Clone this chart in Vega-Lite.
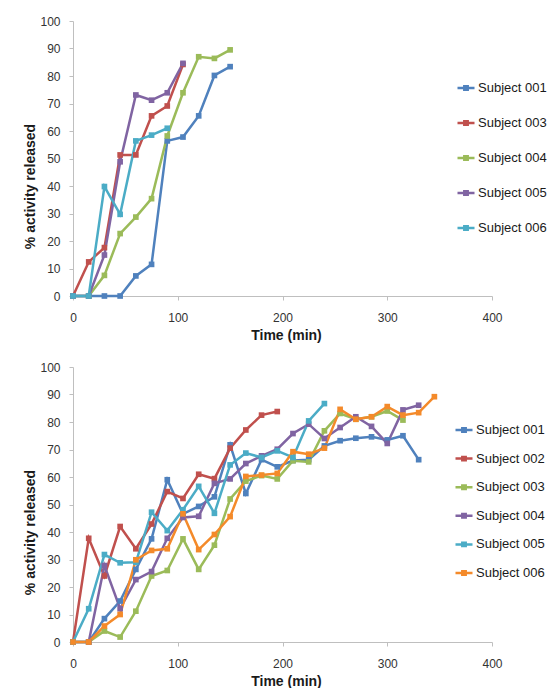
{
  "$schema": "https://vega.github.io/schema/vega-lite/v6.json",
  "padding": {"left": 23, "top": 15, "right": 0, "bottom": 0},
  "background": "white",
  "spacing": 19,
  "config": {
    "font": "Liberation Sans",
    "view": {"stroke": null},
    "axis": {"grid": false, "domainColor": "#bfbfbf", "tickColor": "#bfbfbf", "tickSize": 4, "labelFont": "Liberation Sans", "labelFontSize": 12, "labelColor": "#333333", "titleFont": "Liberation Sans", "titleFontSize": 14, "titleFontWeight": "bold", "titleColor": "#1a1a1a", "labelOverlap": false},
    "legend": {"labelFont": "Liberation Sans", "labelFontSize": 13, "labelColor": "#1a1a1a", "labelOffset": 2}
  },
  "datasets": {
    "a": [
      {"subject": "Subject 001", "time": 0, "pct": 0}, {"subject": "Subject 001", "time": 15, "pct": 0}, {"subject": "Subject 001", "time": 30, "pct": 0}, {"subject": "Subject 001", "time": 45, "pct": 0}, {"subject": "Subject 001", "time": 60, "pct": 7.3}, {"subject": "Subject 001", "time": 75, "pct": 11.5}, {"subject": "Subject 001", "time": 90, "pct": 56.4}, {"subject": "Subject 001", "time": 105, "pct": 57.8}, {"subject": "Subject 001", "time": 120, "pct": 65.5}, {"subject": "Subject 001", "time": 135, "pct": 80.2}, {"subject": "Subject 001", "time": 150, "pct": 83.4},
      {"subject": "Subject 003", "time": 0, "pct": 0}, {"subject": "Subject 003", "time": 15, "pct": 12.4}, {"subject": "Subject 003", "time": 30, "pct": 17.6}, {"subject": "Subject 003", "time": 45, "pct": 51.3}, {"subject": "Subject 003", "time": 60, "pct": 51.3}, {"subject": "Subject 003", "time": 75, "pct": 65.5}, {"subject": "Subject 003", "time": 90, "pct": 69.1}, {"subject": "Subject 003", "time": 105, "pct": 84.2},
      {"subject": "Subject 004", "time": 0, "pct": 0}, {"subject": "Subject 004", "time": 15, "pct": 0}, {"subject": "Subject 004", "time": 30, "pct": 7.5}, {"subject": "Subject 004", "time": 45, "pct": 22.7}, {"subject": "Subject 004", "time": 60, "pct": 28.7}, {"subject": "Subject 004", "time": 75, "pct": 35.4}, {"subject": "Subject 004", "time": 90, "pct": 58.2}, {"subject": "Subject 004", "time": 105, "pct": 73.9}, {"subject": "Subject 004", "time": 120, "pct": 87.0}, {"subject": "Subject 004", "time": 135, "pct": 86.4}, {"subject": "Subject 004", "time": 150, "pct": 89.5},
      {"subject": "Subject 005", "time": 0, "pct": 0}, {"subject": "Subject 005", "time": 15, "pct": 0}, {"subject": "Subject 005", "time": 30, "pct": 14.9}, {"subject": "Subject 005", "time": 45, "pct": 48.8}, {"subject": "Subject 005", "time": 60, "pct": 73.1}, {"subject": "Subject 005", "time": 75, "pct": 71.2}, {"subject": "Subject 005", "time": 90, "pct": 73.9}, {"subject": "Subject 005", "time": 105, "pct": 84.6},
      {"subject": "Subject 006", "time": 0, "pct": 0}, {"subject": "Subject 006", "time": 15, "pct": 0}, {"subject": "Subject 006", "time": 30, "pct": 39.8}, {"subject": "Subject 006", "time": 45, "pct": 29.7}, {"subject": "Subject 006", "time": 60, "pct": 56.4}, {"subject": "Subject 006", "time": 75, "pct": 58.5}, {"subject": "Subject 006", "time": 90, "pct": 61.0}
    ],
    "b": [
      {"subject": "Subject 001", "time": 0, "pct": 0}, {"subject": "Subject 001", "time": 15, "pct": 0}, {"subject": "Subject 001", "time": 30, "pct": 8.5}, {"subject": "Subject 001", "time": 45, "pct": 14.9}, {"subject": "Subject 001", "time": 60, "pct": 26.4}, {"subject": "Subject 001", "time": 75, "pct": 37.5}, {"subject": "Subject 001", "time": 90, "pct": 59}, {"subject": "Subject 001", "time": 105, "pct": 46.6}, {"subject": "Subject 001", "time": 120, "pct": 49.3}, {"subject": "Subject 001", "time": 135, "pct": 52.8}, {"subject": "Subject 001", "time": 150, "pct": 71.7}, {"subject": "Subject 001", "time": 165, "pct": 54}, {"subject": "Subject 001", "time": 180, "pct": 66.3}, {"subject": "Subject 001", "time": 195, "pct": 63.7}, {"subject": "Subject 001", "time": 210, "pct": 66}, {"subject": "Subject 001", "time": 225, "pct": 66.3}, {"subject": "Subject 001", "time": 240, "pct": 71.3}, {"subject": "Subject 001", "time": 255, "pct": 73.2}, {"subject": "Subject 001", "time": 270, "pct": 74.1}, {"subject": "Subject 001", "time": 285, "pct": 74.6}, {"subject": "Subject 001", "time": 300, "pct": 73.5}, {"subject": "Subject 001", "time": 315, "pct": 75}, {"subject": "Subject 001", "time": 330, "pct": 66.3},
      {"subject": "Subject 002", "time": 0, "pct": 0}, {"subject": "Subject 002", "time": 15, "pct": 37.7}, {"subject": "Subject 002", "time": 30, "pct": 24}, {"subject": "Subject 002", "time": 45, "pct": 42}, {"subject": "Subject 002", "time": 60, "pct": 33.9}, {"subject": "Subject 002", "time": 75, "pct": 42.9}, {"subject": "Subject 002", "time": 90, "pct": 54.7}, {"subject": "Subject 002", "time": 105, "pct": 52.2}, {"subject": "Subject 002", "time": 120, "pct": 61}, {"subject": "Subject 002", "time": 135, "pct": 59.4}, {"subject": "Subject 002", "time": 150, "pct": 70.5}, {"subject": "Subject 002", "time": 165, "pct": 77.1}, {"subject": "Subject 002", "time": 180, "pct": 82.5}, {"subject": "Subject 002", "time": 195, "pct": 83.8},
      {"subject": "Subject 003", "time": 0, "pct": 0}, {"subject": "Subject 003", "time": 15, "pct": 0}, {"subject": "Subject 003", "time": 30, "pct": 4}, {"subject": "Subject 003", "time": 45, "pct": 1.8}, {"subject": "Subject 003", "time": 60, "pct": 11.2}, {"subject": "Subject 003", "time": 75, "pct": 24}, {"subject": "Subject 003", "time": 90, "pct": 26}, {"subject": "Subject 003", "time": 105, "pct": 37.5}, {"subject": "Subject 003", "time": 120, "pct": 26.4}, {"subject": "Subject 003", "time": 135, "pct": 35.2}, {"subject": "Subject 003", "time": 150, "pct": 52}, {"subject": "Subject 003", "time": 165, "pct": 58.5}, {"subject": "Subject 003", "time": 180, "pct": 60.5}, {"subject": "Subject 003", "time": 195, "pct": 59.3}, {"subject": "Subject 003", "time": 210, "pct": 65.9}, {"subject": "Subject 003", "time": 225, "pct": 65.5}, {"subject": "Subject 003", "time": 240, "pct": 76.8}, {"subject": "Subject 003", "time": 255, "pct": 83.1}, {"subject": "Subject 003", "time": 270, "pct": 81}, {"subject": "Subject 003", "time": 285, "pct": 81.9}, {"subject": "Subject 003", "time": 300, "pct": 84}, {"subject": "Subject 003", "time": 315, "pct": 80.7},
      {"subject": "Subject 004", "time": 0, "pct": 0}, {"subject": "Subject 004", "time": 15, "pct": 0}, {"subject": "Subject 004", "time": 30, "pct": 27.8}, {"subject": "Subject 004", "time": 45, "pct": 12.1}, {"subject": "Subject 004", "time": 60, "pct": 22.7}, {"subject": "Subject 004", "time": 75, "pct": 25.6}, {"subject": "Subject 004", "time": 90, "pct": 37.7}, {"subject": "Subject 004", "time": 105, "pct": 45.3}, {"subject": "Subject 004", "time": 120, "pct": 45.7}, {"subject": "Subject 004", "time": 135, "pct": 57.7}, {"subject": "Subject 004", "time": 150, "pct": 59.3}, {"subject": "Subject 004", "time": 165, "pct": 64.9}, {"subject": "Subject 004", "time": 180, "pct": 67.7}, {"subject": "Subject 004", "time": 195, "pct": 70.1}, {"subject": "Subject 004", "time": 210, "pct": 75.8}, {"subject": "Subject 004", "time": 225, "pct": 79.2}, {"subject": "Subject 004", "time": 240, "pct": 74}, {"subject": "Subject 004", "time": 255, "pct": 78}, {"subject": "Subject 004", "time": 270, "pct": 81.9}, {"subject": "Subject 004", "time": 285, "pct": 78.4}, {"subject": "Subject 004", "time": 300, "pct": 72.2}, {"subject": "Subject 004", "time": 315, "pct": 84.4}, {"subject": "Subject 004", "time": 330, "pct": 86.1},
      {"subject": "Subject 005", "time": 0, "pct": 0}, {"subject": "Subject 005", "time": 15, "pct": 12.1}, {"subject": "Subject 005", "time": 30, "pct": 31.8}, {"subject": "Subject 005", "time": 45, "pct": 28.8}, {"subject": "Subject 005", "time": 60, "pct": 29}, {"subject": "Subject 005", "time": 75, "pct": 47.2}, {"subject": "Subject 005", "time": 90, "pct": 40.5}, {"subject": "Subject 005", "time": 105, "pct": 48.1}, {"subject": "Subject 005", "time": 120, "pct": 56.6}, {"subject": "Subject 005", "time": 135, "pct": 46.8}, {"subject": "Subject 005", "time": 150, "pct": 64.4}, {"subject": "Subject 005", "time": 165, "pct": 68.7}, {"subject": "Subject 005", "time": 180, "pct": 67.1}, {"subject": "Subject 005", "time": 195, "pct": 69.5}, {"subject": "Subject 005", "time": 210, "pct": 67.1}, {"subject": "Subject 005", "time": 225, "pct": 80.4}, {"subject": "Subject 005", "time": 240, "pct": 86.7},
      {"subject": "Subject 006", "time": 0, "pct": 0}, {"subject": "Subject 006", "time": 15, "pct": 0}, {"subject": "Subject 006", "time": 30, "pct": 5.8}, {"subject": "Subject 006", "time": 45, "pct": 10}, {"subject": "Subject 006", "time": 60, "pct": 29.9}, {"subject": "Subject 006", "time": 75, "pct": 33.3}, {"subject": "Subject 006", "time": 90, "pct": 33.9}, {"subject": "Subject 006", "time": 105, "pct": 46.6}, {"subject": "Subject 006", "time": 120, "pct": 33.6}, {"subject": "Subject 006", "time": 135, "pct": 39.1}, {"subject": "Subject 006", "time": 150, "pct": 45.6}, {"subject": "Subject 006", "time": 165, "pct": 60.2}, {"subject": "Subject 006", "time": 180, "pct": 60.7}, {"subject": "Subject 006", "time": 195, "pct": 61.3}, {"subject": "Subject 006", "time": 210, "pct": 69.2}, {"subject": "Subject 006", "time": 225, "pct": 68.3}, {"subject": "Subject 006", "time": 240, "pct": 70.5}, {"subject": "Subject 006", "time": 255, "pct": 84.6}, {"subject": "Subject 006", "time": 270, "pct": 81}, {"subject": "Subject 006", "time": 285, "pct": 81.9}, {"subject": "Subject 006", "time": 300, "pct": 85.6}, {"subject": "Subject 006", "time": 315, "pct": 82.5}, {"subject": "Subject 006", "time": 330, "pct": 83.4}, {"subject": "Subject 006", "time": 345, "pct": 89.2}
    ]
  },
  "resolve": {"scale": {"color": "independent", "x": "independent", "y": "independent"}, "legend": {"color": "independent"}},
  "vconcat": [
    {
      "width": 419, "height": 275,
      "encoding": {
        "x": {"field": "time", "type": "quantitative", "scale": {"domain": [0, 400], "nice": false}, "axis": {"values": [0, 100, 200, 300, 400], "title": "Time (min)", "labelPadding": 12, "titlePadding": 5, "labelFlush": false, "labelOverlap": false, "titleX": 213}},
        "y": {"field": "pct", "type": "quantitative", "scale": {"domain": [0, 100], "nice": false}, "axis": {"values": [0, 10, 20, 30, 40, 50, 60, 70, 80, 90, 100], "title": "% activity released", "labelPadding": 9, "titlePadding": 2, "labelOverlap": false, "titleY": 165}},
        "color": {"field": "subject", "type": "nominal", "scale": {"domain": ["Subject 001", "Subject 003", "Subject 004", "Subject 005", "Subject 006"], "range": ["#4F81BD", "#C0504D", "#9BBB59", "#8064A2", "#4BACC6"]}, "legend": {"title": null, "orient": "none", "legendX": 383, "legendY": 57, "rowPadding": 18, "symbolType": "M-1,0L1,0M-0.2,-0.2L0.2,-0.2L0.2,0.2L-0.2,0.2Z", "symbolSize": 289, "symbolStrokeWidth": 2.5}}
      },
      "layer": [
        {
          "data": {"name": "a"},
          "mark": {"type": "line", "strokeWidth": 2.5}
        },
        {
          "data": {"name": "a"},
          "mark": {"type": "point", "shape": "square", "filled": true, "size": 32, "opacity": 1}
        },
        {
          "data": {"values": [{"label": "(a)"}]},
          "mark": {"type": "text", "fontSize": 16, "font": "Liberation Sans", "align": "center", "baseline": "middle"},
          "encoding": {"x": {"datum": 415, "type": "quantitative"}, "y": {"datum": 100, "type": "quantitative"}, "text": {"field": "label"}, "color": {"value": "#1a1a1a"}}
        }
      ]
    },
    {
      "width": 419, "height": 275,
      "encoding": {
        "x": {"field": "time", "type": "quantitative", "scale": {"domain": [0, 400], "nice": false}, "axis": {"values": [0, 100, 200, 300, 400], "title": "Time (min)", "labelPadding": 12, "titlePadding": 5, "labelFlush": false, "labelOverlap": false, "titleX": 213}},
        "y": {"field": "pct", "type": "quantitative", "scale": {"domain": [0, 100], "nice": false}, "axis": {"values": [0, 10, 20, 30, 40, 50, 60, 70, 80, 90, 100], "title": "% activity released", "labelPadding": 9, "titlePadding": 2, "labelOverlap": false, "titleY": 165}},
        "color": {"field": "subject", "type": "nominal", "scale": {"domain": ["Subject 001", "Subject 002", "Subject 003", "Subject 004", "Subject 005", "Subject 006"], "range": ["#4F81BD", "#C0504D", "#9BBB59", "#8064A2", "#4BACC6", "#F48A2A"]}, "legend": {"title": null, "orient": "none", "legendX": 381, "legendY": 53, "rowPadding": 11.6, "symbolType": "M-1,0L1,0M-0.2,-0.2L0.2,-0.2L0.2,0.2L-0.2,0.2Z", "symbolSize": 289, "symbolStrokeWidth": 2.5}}
      },
      "layer": [
        {
          "data": {"name": "b"},
          "mark": {"type": "line", "strokeWidth": 2.5}
        },
        {
          "data": {"name": "b"},
          "mark": {"type": "point", "shape": "square", "filled": true, "size": 32, "opacity": 1}
        },
        {
          "data": {"values": [{"label": "(b)"}]},
          "mark": {"type": "text", "fontSize": 16, "font": "Liberation Sans", "align": "center", "baseline": "middle"},
          "encoding": {"x": {"datum": 415, "type": "quantitative"}, "y": {"datum": 100, "type": "quantitative"}, "text": {"field": "label"}, "color": {"value": "#1a1a1a"}}
        }
      ]
    }
  ]
}
